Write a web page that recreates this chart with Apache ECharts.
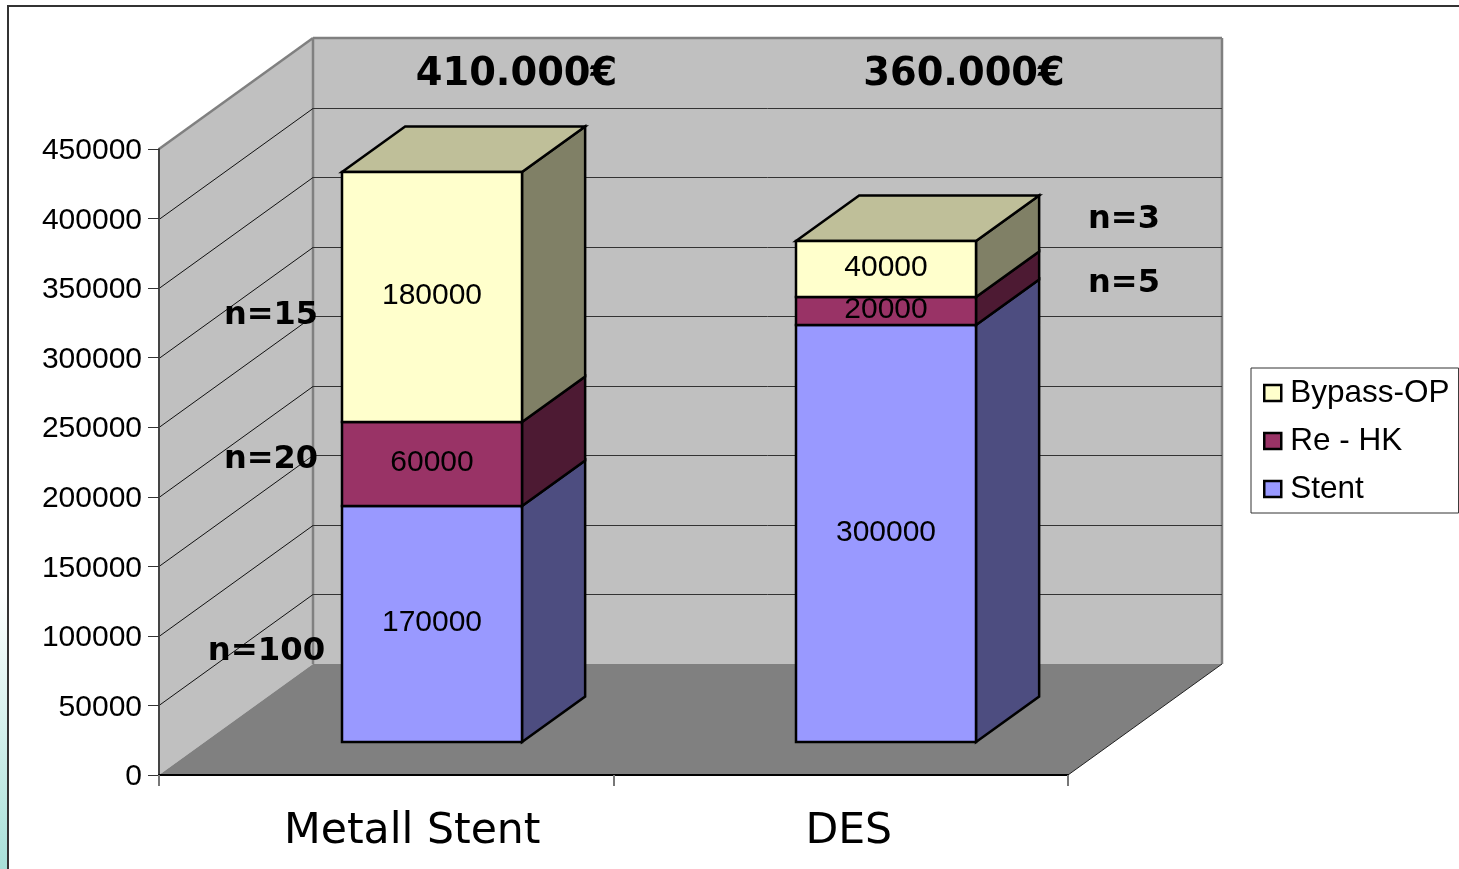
<!DOCTYPE html>
<html>
<head>
<meta charset="utf-8">
<title>Kosten nach Stent-Typ</title>
<style>
  html, body { margin: 0; padding: 0; background: #fff; }
  #chart { width: 1459px; height: 869px; }
</style>
<script src="https://cdn.jsdelivr.net/npm/echarts@6/dist/echarts.min.js"></script>
</head>
<body>
<div id="chart"></div>
<script>
// Chart values
const categories = ['Metall Stent', 'DES'];
const stentValues = [170000, 300000];
const reHkValues = [60000, 20000];
const bypassValues = [180000, 40000];
const yTicks = [0, 50000, 100000, 150000, 200000, 250000, 300000, 350000, 400000, 450000];
const seriesNames = ['Stent', 'Re - HK', 'Bypass-OP'];
const legendOrder = ['Bypass-OP', 'Re - HK', 'Stent'];

// Oblique projection of the third dimension
const DEPTH_X = 154;
const DEPTH_Y = 111;
const BAR_NEAR = 0.297;
const BAR_SPAN = 0.41;
const BAR_WIDTH_RATIO = 0.396;

const SANS = '"Liberation Sans", Arial, sans-serif';
const WIDE = '"DejaVu Sans", Verdana, sans-serif';

// Floor and the two walls behind the bars
function renderPlanes(params, api) {
  const c = params.coordSys;
  const x0 = c.x, x1 = c.x + c.width;
  const yTop = api.coord([0, 450000])[1], yBase = api.coord([0, 0])[1];
  const bx0 = x0 + DEPTH_X, bx1 = x1 + DEPTH_X;
  const byTop = yTop - DEPTH_Y, byBase = yBase - DEPTH_Y;
  const edge = { stroke: '#808080', lineWidth: 2.5 };
  const line = (a, b, style) => ({
    type: 'line',
    shape: { x1: a[0], y1: a[1], x2: b[0], y2: b[1] },
    style
  });
  return {
    type: 'group',
    children: [
      { type: 'polygon', shape: { points: [[bx0, byTop], [bx1, byTop], [bx1, byBase], [bx0, byBase]] }, style: { fill: '#C0C0C0' } },
      { type: 'polygon', shape: { points: [[x0, yBase], [x0, yTop], [bx0, byTop], [bx0, byBase]] }, style: { fill: '#C0C0C0' } },
      line([x0, yTop], [bx0, byTop], edge),
      line([bx0, byTop], [bx1, byTop], edge),
      line([bx0, byTop], [bx0, byBase], edge),
      line([bx1, byTop], [bx1, byBase], edge),
      { type: 'polygon', shape: { points: [[x0, yBase], [x1, yBase], [bx1, byBase], [bx0, byBase]] }, style: { fill: '#808080' } },
      line([x1, yBase], [bx1, byBase], { stroke: '#222', lineWidth: 1 })
    ]
  };
}

// One gridline per axis tick, running up the left wall and across the back wall
function renderGridLine(params, api) {
  const c = params.coordSys;
  const y = Math.round(api.coord([0, api.value(1)])[1]) + 0.5;
  const bx0 = c.x + DEPTH_X, bx1 = c.x + c.width + DEPTH_X;
  const by = y - DEPTH_Y;
  return {
    type: 'group',
    children: [
      { type: 'line', shape: { x1: c.x, y1: y, x2: bx0, y2: by }, style: { stroke: '#111', lineWidth: 1 } },
      { type: 'line', shape: { x1: bx0, y1: by, x2: bx1, y2: by }, style: { stroke: '#333', lineWidth: 1 } }
    ]
  };
}

// One stacked block: front, side and, for the uppermost block, the lid
function makeBlockRenderer(front, side, lid) {
  return function (params, api) {
    const cat = api.value(0), low = api.value(1), high = api.value(2), amount = api.value(3);
    const band = api.size([1, 0])[0];
    const w = band * BAR_WIDTH_RATIO;
    const baseP = api.coord([cat, low]);
    const topP = api.coord([cat, high]);
    const ox = DEPTH_X * BAR_NEAR, oy = DEPTH_Y * BAR_NEAR;
    const dx = DEPTH_X * BAR_SPAN, dy = DEPTH_Y * BAR_SPAN;
    const xl = Math.round(baseP[0] + ox - w / 2), xr = Math.round(baseP[0] + ox + w / 2);
    const yb = Math.round(baseP[1] - oy), yt = Math.round(topP[1] - oy);
    const stroke = { stroke: '#000', lineWidth: 2.5, lineJoin: 'miter' };
    const children = [
      { type: 'polygon', shape: { points: [[xr, yb], [xr + dx, yb - dy], [xr + dx, yt - dy], [xr, yt]] }, style: { fill: side, ...stroke } }
    ];
    if (lid) {
      children.push({ type: 'polygon', shape: { points: [[xl, yt], [xr, yt], [xr + dx, yt - dy], [xl + dx, yt - dy]] }, style: { fill: lid, ...stroke } });
    }
    children.push({ type: 'rect', shape: { x: xl, y: yt, width: xr - xl, height: yb - yt }, style: { fill: front, ...stroke } });
    children.push({
      type: 'text',
      style: {
        x: (xl + xr) / 2, y: (yb + yt) / 2 - 1,
        text: String(amount),
        fill: '#000',
        font: '30px ' + SANS,
        align: 'center', verticalAlign: 'middle'
      }
    });
    return { type: 'group', children };
  };
}

function stackData(values, below) {
  return values.map((v, i) => [i, below[i], below[i] + v, v]);
}
const reHkBase = stentValues.slice();
const bypassBase = stentValues.map((v, i) => v + reHkValues[i]);

function note(text, cx, cy, size) {
  return {
    type: 'text', z: 100, silent: true, x: cx, y: cy,
    style: {
      text, fill: '#000', font: 'bold ' + size + 'px ' + WIDE,
      align: 'center', verticalAlign: 'middle'
    }
  };
}

const chart = echarts.init(document.getElementById('chart'), null, { renderer: 'canvas' });
chart.setOption({
  animation: false,
  backgroundColor: '#fff',
  grid: { left: 159, top: 149, width: 909, height: 626, containLabel: false },
  xAxis: {
    type: 'category',
    z: 10,
    data: [
      { value: categories[0], textStyle: { padding: [0, 0, 0, 52] } },
      { value: categories[1], textStyle: { padding: [0, 0, 0, 16] } }
    ],
    axisLine: { lineStyle: { color: '#000', width: 2 } },
    axisTick: { show: true, length: 11, alignWithLabel: false, lineStyle: { color: '#777', width: 2 } },
    axisLabel: { color: '#000', fontFamily: WIDE, fontSize: 42.6, margin: 35 },
    splitLine: { show: false }
  },
  yAxis: {
    type: 'value',
    min: 0, max: 450000, interval: 50000,
    z: 10,
    axisLine: { show: true, lineStyle: { color: '#444', width: 2 } },
    axisTick: { show: true, length: 11, lineStyle: { color: '#333', width: 1 } },
    axisLabel: {
      color: '#000', fontFamily: SANS, fontSize: 30, margin: 17,
      formatter: v => '{t|' + v + '}',
      rich: { t: { fontFamily: SANS, fontSize: 30, color: '#000', padding: [4, 0, 0, 0] } }
    },
    splitLine: { show: false }
  },
  legend: {
    left: 1251, top: 368,
    orient: 'vertical',
    data: legendOrder,
    icon: 'rect',
    itemWidth: 17, itemHeight: 16, itemGap: 14,
    padding: [8, 9, 7, 12],
    backgroundColor: '#fff',
    borderColor: '#333', borderWidth: 1,
    selectedMode: false,
    itemStyle: { borderColor: '#000', borderWidth: 2.5 },
    textStyle: { color: '#000', fontFamily: SANS, fontSize: 31.5, lineHeight: 34, padding: [0, 0, 0, 4] }
  },
  series: [
    { type: 'custom', name: 'planes', z: 1, silent: true, data: [[0, 0]], renderItem: renderPlanes },
    { type: 'custom', name: 'gridlines', z: 2, silent: true, data: yTicks.slice(1, -1).map(v => [0, v]), renderItem: renderGridLine },
    { type: 'custom', name: seriesNames[0], z: 3, silent: true, itemStyle: { color: '#9999FF' },
      data: stackData(stentValues, [0, 0]), renderItem: makeBlockRenderer('#9999FF', '#4D4D80') },
    { type: 'custom', name: seriesNames[1], z: 4, silent: true, itemStyle: { color: '#993366' },
      data: stackData(reHkValues, reHkBase), renderItem: makeBlockRenderer('#993366', '#4D1A33') },
    { type: 'custom', name: seriesNames[2], z: 5, silent: true, itemStyle: { color: '#FFFFCC' },
      data: stackData(bypassValues, bypassBase), renderItem: makeBlockRenderer('#FFFFCC', '#808066', '#BFBF99') }
  ],
  graphic: [
    // Slide frame and the tinted edge at the lower left
    { type: 'rect', z: -1, silent: true, shape: { x: 0, y: 590, width: 8, height: 279 },
      style: { fill: new echarts.graphic.LinearGradient(0, 0, 0, 1, [
        { offset: 0, color: '#FFFFFF' }, { offset: 1, color: '#A8E0D8' }
      ]) } },
    { type: 'line', z: 50, silent: true, shape: { x1: 7, y1: 6, x2: 1459, y2: 6 }, style: { stroke: '#333', lineWidth: 2 } },
    { type: 'line', z: 50, silent: true, shape: { x1: 8, y1: 6, x2: 8, y2: 869 }, style: { stroke: '#333', lineWidth: 2 } },
    note('410.000€', 516.5, 75, 38.4),
    note('360.000€', 964, 75, 38.4),
    note('n=15', 271, 316, 32),
    note('n=20', 271, 460, 32),
    note('n=100', 266.5, 652, 32.3),
    note('n=3', 1124, 220, 32),
    note('n=5', 1124, 284, 32)
  ]
});
</script>
</body>
</html>
